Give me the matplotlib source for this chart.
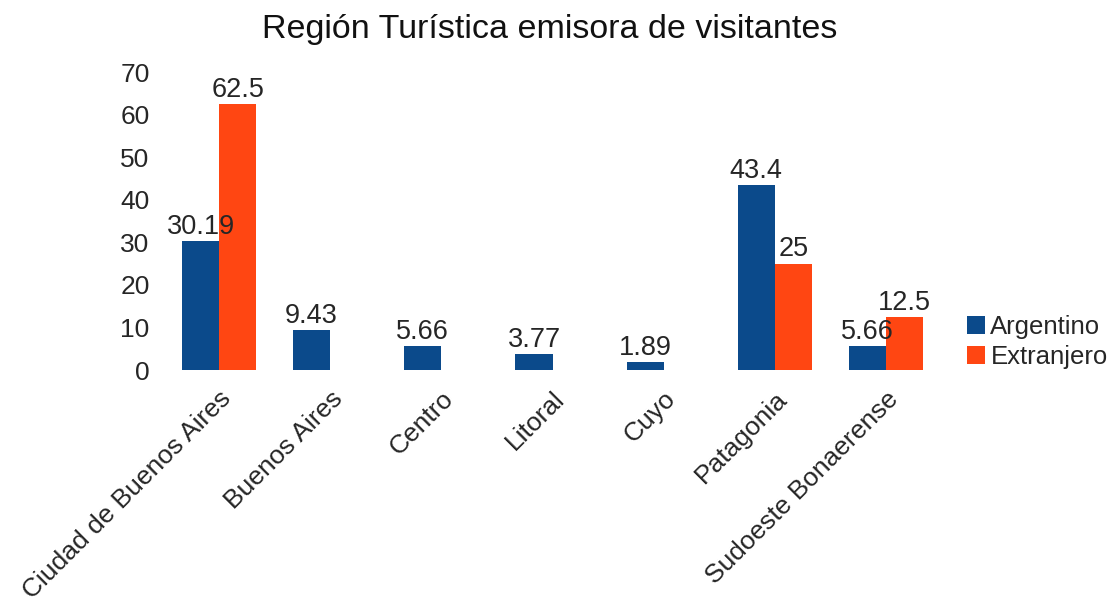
import numpy as np
import matplotlib.pyplot as plt

plt.rcParams["font.family"] = ["Liberation Sans", "DejaVu Sans"]

regiones = ["Ciudad de Buenos Aires", "Buenos Aires", "Centro", "Litoral",
            "Cuyo", "Patagonia", "Sudoeste Bonaerense"]
argentino = [30.19, 9.43, 5.66, 3.77, 1.89, 43.4, 5.66]
extranjero = [62.5, 0, 0, 0, 0, 25, 12.5]
etiquetas_arg = ["30.19", "9.43", "5.66", "3.77", "1.89", "43.4", "5.66"]
etiquetas_ext = ["62.5", "", "", "", "", "25", "12.5"]

azul = "#0b4a8b"
naranja = "#ff4612"
texto = "#262626"

fig = plt.figure(figsize=(11.19, 6.12), dpi=100)
ax = fig.add_axes([0.1461, 0.3954, 0.6953, 0.4869])

x = np.arange(len(regiones))
w = 1 / 3
b1 = ax.bar(x - w / 2, argentino, w, color=azul, label="Argentino")
b2 = ax.bar(x + w / 2, extranjero, w, color=naranja, label="Extranjero")

for rect, lab in zip(b1, etiquetas_arg):
    ax.text(rect.get_x() + rect.get_width() / 2, rect.get_height() + 0.3, lab,
            ha="center", va="bottom", fontsize=19.5, color=texto)
for rect, lab in zip(b2, etiquetas_ext):
    if lab:
        ax.text(rect.get_x() + rect.get_width() / 2, rect.get_height() + 0.3, lab,
                ha="center", va="bottom", fontsize=19.5, color=texto)

ax.set_xlim(-0.5, len(regiones) - 0.5)
ax.set_ylim(0, 70)
ax.set_yticks(range(0, 71, 10))
ax.set_xticks(x)
ax.set_xticklabels(regiones, rotation=45, ha="right", rotation_mode="anchor")
ax.tick_params(axis="both", length=0, labelsize=19, colors=texto)
ax.tick_params(axis="y", pad=10)
ax.tick_params(axis="x", pad=12)
for s in ax.spines.values():
    s.set_visible(False)

fig.text(0.491, 0.951, "Región Turística emisora de visitantes", fontsize=24.5,
         color="#111111", ha="center", va="center")

ax.legend(loc="upper left", bbox_to_anchor=(1.01, 0.245), frameon=False,
          fontsize=18.5, handlelength=0.7, handleheight=0.7, handletextpad=0.2,
          labelspacing=0.25, borderpad=0.2, labelcolor=texto)

fig.savefig("out.png", dpi=100)
